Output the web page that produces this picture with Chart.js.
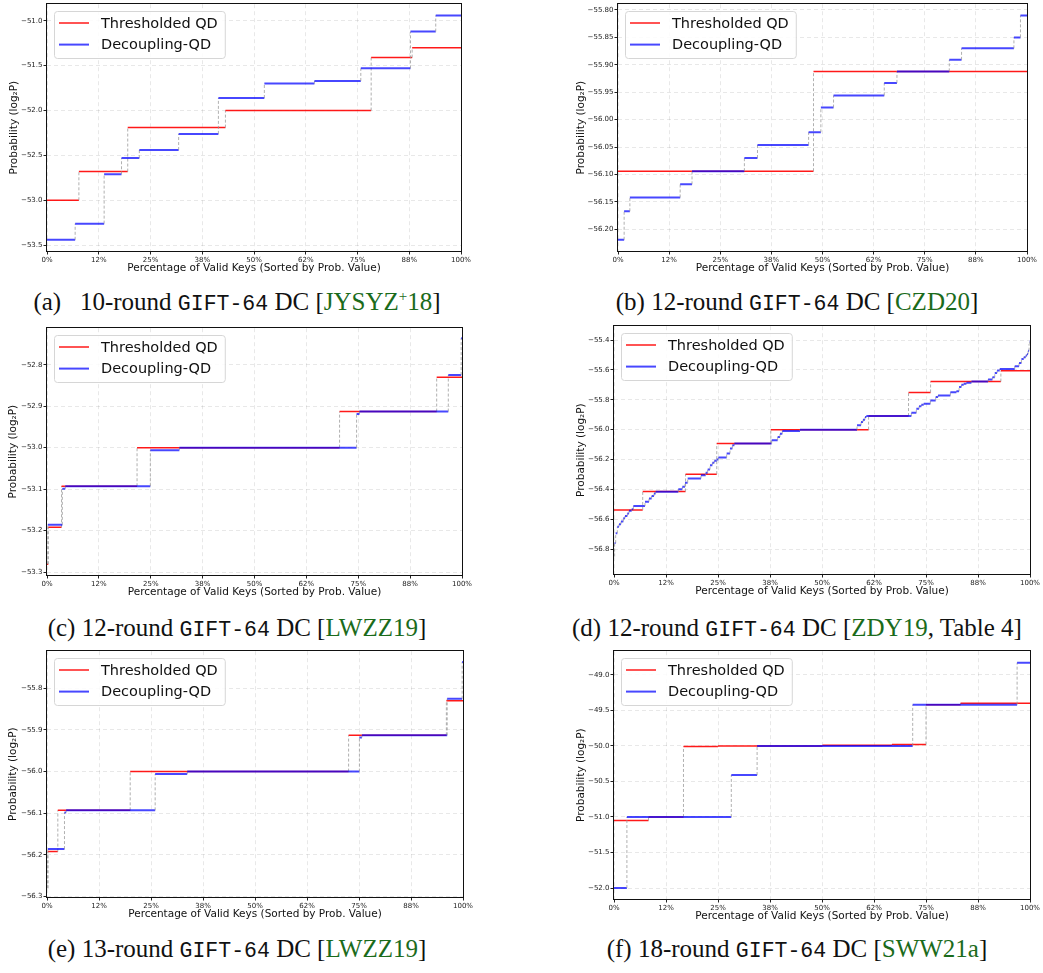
<!DOCTYPE html>
<html>
<head>
<meta charset="utf-8">
<script src="https://cdn.jsdelivr.net/npm/chart.js@4.4.1/dist/chart.umd.min.js"></script>
<style>
    body { margin: 0; width: 1043px; height: 973px; background: #fff; position: relative; overflow: hidden; }
    canvas { position: absolute; }
    .cap { position: absolute; width: 520px; text-align: center; font-family: "Liberation Serif", "DejaVu Serif", serif; font-size: 25px; line-height: 24px; color: #111; white-space: nowrap; }
    .cap.esq { left: -23px; }
    .cap.dir { left: 537px; }
    .cap .tt { font-family: "Liberation Mono", "DejaVu Sans Mono", monospace; font-size: 21.5px; }
    .cap .cite { color: #1b6b1b; }
    .cap sup { font-size: 15px; line-height: 0; }
</style>
</head>
<body>
<canvas id="chartA"></canvas>
<canvas id="chartB"></canvas>
<canvas id="chartC"></canvas>
<canvas id="chartD"></canvas>
<canvas id="chartE"></canvas>
<canvas id="chartF"></canvas>

<div class="cap esq" style="top:290px;">(a)&nbsp;&nbsp; 10-round <span class="tt">GIFT-64</span> DC [<span class="cite">JYSYZ<sup>+</sup>18</span>]</div>
<div class="cap dir" style="top:290px;">(b) 12-round <span class="tt">GIFT-64</span> DC [<span class="cite">CZD20</span>]</div>
<div class="cap esq" style="top:616px;">(c) 12-round <span class="tt">GIFT-64</span> DC [<span class="cite">LWZZ19</span>]</div>
<div class="cap dir" style="top:616px;">(d) 12-round <span class="tt">GIFT-64</span> DC [<span class="cite">ZDY19</span>, Table 4]</div>
<div class="cap esq" style="top:937px;">(e) 13-round <span class="tt">GIFT-64</span> DC [<span class="cite">LWZZ19</span>]</div>
<div class="cap dir" style="top:937px;">(f) 18-round <span class="tt">GIFT-64</span> DC [<span class="cite">SWW21a</span>]</div>

<script>
// Eixo X comum: percentagem de chaves válidas
const xTickVals = [0, 12.5, 25, 37.5, 50, 62.5, 75, 87.5, 100];
const xTickLabels = ['0%', '12%', '25%', '38%', '50%', '62%', '75%', '88%', '100%'];

// (a) 10-round [JYSYZ+18] - início de cada degrau (%) e valor log2P
const aThreshX = [0, 7.7, 19.5, 43.1, 78.3, 88.2];
const aThreshY = [-53.00, -52.68, -52.19, -52.00, -51.41, -51.30];
const aDecoupX = [0, 6.8, 13.8, 18.0, 22.3, 31.8, 41.4, 52.5, 64.6, 75.8, 87.8, 93.9];
const aDecoupY = [-53.44, -53.26, -52.71, -52.53, -52.44, -52.26, -51.86, -51.70, -51.67, -51.53, -51.12, -50.94];
const aYTicks = [-53.5, -53.0, -52.5, -52.0, -51.5, -51.0];

// (b) 12-round [CZD20]
const bThreshX = [0, 47.8];
const bThreshY = [-56.094, -55.912];
const bDecoupX = [0, 1.5, 2.9, 15.2, 18.1, 30.9, 34.1, 46.6, 49.6, 52.7, 65.1, 68.2, 81.0, 84.0, 96.8, 98.4];
const bDecoupY = [-56.219, -56.167, -56.142, -56.118, -56.094, -56.070, -56.046, -56.023, -55.978, -55.956, -55.933, -55.912, -55.891, -55.870, -55.850, -55.810];
const bYTicks = [-56.20, -56.15, -56.10, -56.05, -56.00, -55.95, -55.90, -55.85, -55.80];

// (c) 12-round [LWZZ19]
const cThreshX = [0, 0.3, 3.5, 21.7, 70.5, 93.9];
const cThreshY = [-53.281, -53.192, -53.093, -53.000, -52.913, -52.830];
const cDecoupX = [0, 0.2, 3.7, 4.4, 24.9, 31.9, 74.6, 75.3, 96.7, 99.8];
const cDecoupY = [-53.281, -53.186, -53.099, -53.093, -53.006, -53.000, -52.919, -52.913, -52.825, -52.736];
const cYTicks = [-53.3, -53.2, -53.1, -53.0, -52.9, -52.8];

// (d) 12-round [ZDY19, Table 4]
const dThreshX = [0, 6.9, 17.2, 24.7, 37.7, 61.2, 70.8, 76.1, 93.0];
const dThreshY = [-56.538, -56.414, -56.298, -56.093, -56.000, -55.909, -55.751, -55.678, -55.605];
const dDecoupX = [0, 0.15, 0.40, 0.80, 1.20, 1.68, 2.24, 2.64, 3.21, 3.61, 4.25, 4.65, 7.45, 8.41, 9.05, 9.62,
    10.02, 15.46, 16.43, 17.07, 17.71, 20.91, 22.04, 22.52, 23.08, 23.64, 24.12, 24.68, 25.08, 27.08, 27.88, 28.45,
    28.93, 37.90, 39.34, 39.90, 40.46, 44.71, 58.42, 59.38, 59.86, 60.34, 60.66, 71.48, 72.68, 73.33, 73.89, 74.45,
    76.05, 77.33, 77.90, 80.86, 82.31, 82.95, 83.51, 84.07, 84.71, 85.92, 89.92, 90.97, 91.53, 92.09, 92.73, 96.33,
    97.37, 97.94, 98.50, 98.98, 99.30, 99.54, 99.78, 99.94];
const dDecoupY = [-56.850, -56.760, -56.694, -56.650, -56.634, -56.616, -56.594, -56.579, -56.561, -56.543, -56.534, -56.512, -56.483, -56.461, -56.445, -56.427,
    -56.416, -56.400, -56.383, -56.356, -56.327, -56.305, -56.289, -56.267, -56.238, -56.222, -56.209, -56.200, -56.187, -56.160, -56.127, -56.105,
    -56.093, -56.071, -56.049, -56.027, -56.009, -56.000, -55.971, -55.949, -55.933, -55.915, -55.909, -55.887, -55.860, -55.844, -55.833, -55.826,
    -55.804, -55.782, -55.771, -55.749, -55.742, -55.715, -55.700, -55.693, -55.686, -55.677, -55.664, -55.649, -55.620, -55.604, -55.593, -55.575,
    -55.553, -55.526, -55.515, -55.504, -55.493, -55.471, -55.426, -55.410];
const dYTicks = [-56.8, -56.6, -56.4, -56.2, -56.0, -55.8, -55.6, -55.4];

// (e) 13-round [LWZZ19]
const eThreshX = [0, 0.2, 2.6, 20.0, 72.5, 96.0];
const eThreshY = [-56.280, -56.192, -56.093, -56.000, -55.913, -55.830];
const eDecoupX = [0, 0.2, 4.2, 4.6, 26.0, 33.7, 75.1, 75.7, 96.2, 99.8];
const eDecoupY = [-56.280, -56.186, -56.098, -56.093, -56.006, -56.000, -55.918, -55.913, -55.825, -55.737];
const eYTicks = [-56.3, -56.2, -56.1, -56.0, -55.9, -55.8];

// (f) 18-round [SWW21a]
const fThreshX = [0, 8.3, 16.7, 25.0, 50.1, 66.8, 75.0, 83.3];
const fThreshY = [-51.05, -51.00, -50.01, -50.00, -49.99, -49.98, -49.42, -49.40];
const fDecoupX = [0, 3.1, 28.2, 34.4, 71.8, 96.9];
const fDecoupY = [-52.00, -51.00, -50.41, -50.00, -49.42, -48.83];
const fYTicks = [-52.0, -51.5, -51.0, -50.5, -50.0, -49.5, -49.0];

const labelThresh = 'Thresholded QD';
const labelDecoup = 'Decoupling-QD';

// Layout de cada painel (posição do quadro na página)
const paineis = [
    { id: 'chartA', cx: 0,   frame: [47, 3, 461, 251],     yMin: -53.565, yMax: -50.815, ticks: aYTicks, dec: 1, yTitleX: 14,
      thr: [aThreshX, aThreshY], dec2: [aDecoupX, aDecoupY] },
    { id: 'chartB', cx: 570, frame: [618, 3, 1027, 251],   yMin: -56.2395, yMax: -55.7895, ticks: bYTicks, dec: 2, yTitleX: 11,
      thr: [bThreshX, bThreshY], dec2: [bDecoupX, bDecoupY] },
    { id: 'chartC', cx: 0,   frame: [47, 327, 462, 575],   yMin: -53.307, yMax: -52.712, ticks: cYTicks, dec: 1, yTitleX: 13,
      thr: [cThreshX, cThreshY], dec2: [cDecoupX, cDecoupY] },
    { id: 'chartD', cx: 570, frame: [614, 325, 1030, 574], yMin: -56.967, yMax: -55.307, ticks: dYTicks, dec: 1, yTitleX: 11,
      thr: [dThreshX, dThreshY], dec2: [dDecoupX, dDecoupY] },
    { id: 'chartE', cx: 0,   frame: [47, 650, 463, 897],   yMin: -56.301, yMax: -55.711, ticks: eYTicks, dec: 1, yTitleX: 13,
      thr: [eThreshX, eThreshY], dec2: [eDecoupX, eDecoupY] },
    { id: 'chartF', cx: 570, frame: [614, 650, 1030, 899], yMin: -52.154, yMax: -48.668, ticks: fYTicks, dec: 1, yTitleX: 11,
      thr: [fThreshX, fThreshY], dec2: [fDecoupX, fDecoupY] }
];

const FONTE = '"DejaVu Sans", sans-serif';

// Converte degraus (início, valor) em pontos: horizontal colorido + vertical tracejado
function pontosDegrau(xs, ys) {
    const pts = [];
    for (let i = 0; i < xs.length; i++) {
        const xFim = i + 1 < xs.length ? xs[i + 1] : 100;
        pts.push({ x: xs[i], y: ys[i] }, { x: xFim, y: ys[i] });
    }
    return pts;
}

function vertical(ctx) {
    return ctx.p0.parsed.x === ctx.p1.parsed.x;
}

function formatarY(v, dec) {
    return v.toFixed(dec).replace('-', '\u2212');
}

// Quadro preto em volta da área do gráfico
const quadro = {
    id: 'quadro',
    afterDraw(chart) {
        const a = chart.chartArea;
        const ctx = chart.ctx;
        ctx.save();
        ctx.strokeStyle = '#111';
        ctx.lineWidth = 1;
        ctx.strokeRect(Math.round(a.left) - 0.5, Math.round(a.top) - 0.5,
            Math.round(a.right - a.left) + 1, Math.round(a.bottom - a.top) + 1);
        ctx.restore();
    }
};

// Legenda com caixa, estilo matplotlib, no canto superior esquerdo
const legendaCaixa = {
    id: 'legendaCaixa',
    afterDatasetsDraw(chart) {
        const { ctx, chartArea } = chart;
        const itens = chart.data.datasets;
        ctx.save();
        ctx.font = '14.5px ' + FONTE;
        const largTexto = Math.max(...itens.map(d => ctx.measureText(d.label).width));
        const x = Math.round(chartArea.left) + 7;
        const y = Math.round(chartArea.top) + 7;
        const w = 47 + largTexto + 7;
        const h = 47;
        ctx.beginPath();
        ctx.roundRect(x + 0.5, y + 0.5, w, h, 3);
        ctx.fillStyle = 'rgba(255,255,255,0.85)';
        ctx.fill();
        ctx.strokeStyle = '#d6d6d6';
        ctx.lineWidth = 1;
        ctx.stroke();
        itens.forEach((d, i) => {
            const cy = y + 12 + i * 21.6;
            ctx.beginPath();
            ctx.moveTo(x + 5, cy);
            ctx.lineTo(x + 35, cy);
            ctx.strokeStyle = d.borderColor;
            ctx.lineWidth = d.borderWidth;
            ctx.stroke();
            ctx.fillStyle = '#111';
            ctx.textBaseline = 'middle';
            ctx.fillText(d.label, x + 47, cy + 1);
        });
        ctx.restore();
    }
};

function criarGrafico(p) {
    const [fl, ft, fr, fb] = p.frame;
    const largura = p.cx === 0 ? 475 : 473;
    const topo = ft - 4;
    const altura = fb + 31 - topo;

    const canvas = document.getElementById(p.id);
    canvas.width = largura;
    canvas.height = altura;
    canvas.style.left = p.cx + 'px';
    canvas.style.top = topo + 'px';

    const estiloSeg = {
        borderColor: c => vertical(c) ? 'rgba(150,150,150,0.75)' : undefined,
        borderDash: c => vertical(c) ? [3, 2] : undefined,
        borderWidth: c => vertical(c) ? 1 : undefined
    };

    return new Chart(canvas, {
        type: 'line',
        data: {
            datasets: [{
                label: labelThresh,
                data: pontosDegrau(p.thr[0], p.thr[1]),
                borderColor: 'rgba(255,0,0,0.9)',
                borderWidth: 1.5,
                pointRadius: 0,
                fill: false,
                order: 1,
                segment: estiloSeg
            }, {
                label: labelDecoup,
                data: pontosDegrau(p.dec2[0], p.dec2[1]),
                borderColor: 'rgba(0,0,255,0.72)',
                borderWidth: 2,
                pointRadius: 0,
                fill: false,
                order: 0,
                segment: estiloSeg
            }]
        },
        options: {
            responsive: false,
            animation: false,
            devicePixelRatio: 1,
            layout: { padding: { left: 0, top: ft - topo, right: largura - (fr - p.cx), bottom: 0 } },
            plugins: { legend: { display: false }, tooltip: { enabled: false } },
            scales: {
                x: {
                    type: 'linear',
                    min: 0,
                    max: 100,
                    afterBuildTicks: s => { s.ticks = xTickVals.map(v => ({ value: v })); },
                    afterFit: s => { s.height = altura - (fb - topo); },
                    grid: { color: 'rgba(0,0,0,0.09)', tickColor: '#222', tickLength: 3.5, tickBorderDash: [] },
                    border: { display: false, dash: [4, 3] },
                    ticks: {
                        font: { family: FONTE, size: 7 }, color: '#222', padding: 1,
                        maxRotation: 0, autoSkip: false,
                        callback: (v, i) => xTickLabels[i]
                    },
                    title: {
                        display: true,
                        text: 'Percentage of Valid Keys (Sorted by Prob. Value)',
                        font: { family: FONTE, size: 10.5 }, color: '#111',
                        padding: { top: 0, bottom: 7 }
                    }
                },
                y: {
                    type: 'linear',
                    min: p.yMin,
                    max: p.yMax,
                    afterBuildTicks: s => { s.ticks = p.ticks.map(v => ({ value: v })); },
                    afterFit: s => { s.width = fl - p.cx; },
                    grid: { color: 'rgba(0,0,0,0.09)', tickColor: '#222', tickLength: 3.5, tickBorderDash: [] },
                    border: { display: false, dash: [4, 3] },
                    ticks: {
                        font: { family: FONTE, size: 7 }, color: '#222', padding: 1,
                        callback: v => formatarY(v, p.dec)
                    },
                    title: {
                        display: true,
                        text: 'Probability (log\u2082P)',
                        font: { family: FONTE, size: 10.5 }, color: '#111',
                        padding: { top: p.yTitleX - 6.3, bottom: 0 }
                    }
                }
            }
        },
        plugins: [quadro, legendaCaixa]
    });
}

paineis.forEach(criarGrafico);
</script>
</body>
</html>
